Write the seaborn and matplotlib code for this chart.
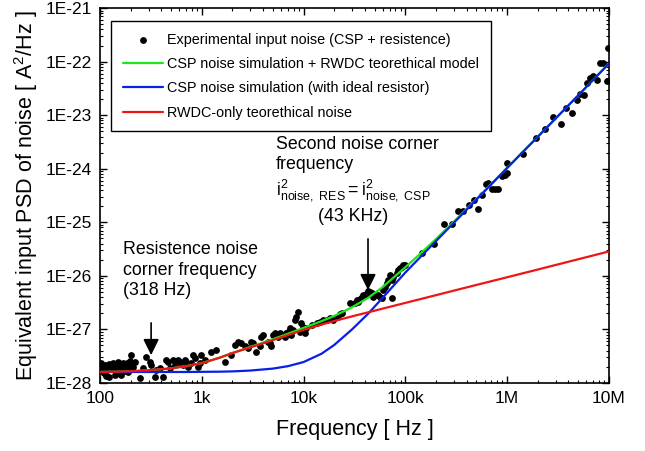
import numpy as np
import pandas as pd
import matplotlib
matplotlib.use('Agg')
import matplotlib.pyplot as plt
from matplotlib.ticker import FixedLocator, FuncFormatter, LogLocator, NullFormatter
import seaborn as sns

# experimental input noise (CSP + resistence)
exp_freq = [101, 103, 105, 107, 109, 111, 113, 115, 115, 118, 120, 122, 124, 127, 129,
            132, 134, 137, 139, 140, 142, 145, 148, 150, 153, 156, 159, 162, 165, 168,
            172, 175, 178, 181, 185, 188, 192, 196, 199, 203, 211, 219, 245, 264, 285,
            307, 319, 344, 357, 385, 416, 448, 465, 483, 521, 541, 584, 606, 654, 679,
            705, 732, 789, 820, 851, 918, 953, 989, 1067, 1242, 1390, 1680, 1950, 2100,
            2270, 2440, 2640, 2840, 3070, 3180, 3430, 3700, 3840, 3990, 4470, 4640, 4820,
            5000, 5200, 5610, 5820, 6280, 6520, 6770, 7030, 7300, 7580, 7870, 8170, 8490,
            8810, 9150, 9500, 9860, 10240, 10640, 12000, 13430, 14490, 15630, 16860, 18170,
            19600, 21130, 22790, 23660, 28560, 32000, 33200, 34500, 35800, 37200, 38600,
            40100, 41700, 43200, 44900, 46600, 48400, 50300, 54200, 56200, 58400, 60700,
            63000, 65400, 67900, 70600, 73300, 74000, 76100, 82000, 85300, 88500, 91900,
            95400, 99100, 145e3, 191e3, 239e3, 285e3, 331e3, 371e3, 425e3, 472e3, 521e3,
            570e3, 619e3, 653e3, 704e3, 759e3, 818e3, 883e3, 951e3, 988e3, 1.0e6, 1.44e6,
            1.92e6, 2.35e6, 2.84e6, 3.35e6, 3.78e6, 4.3e6, 4.81e6, 5.19e6, 5.68e6, 6.12e6,
            6.5e6, 7.02e6, 7.57e6, 8.16e6, 8.8e6, 9.49e6, 9.85e6]
exp_psd = [1.9e-28, 2.33e-28, 2.1e-28, 1.63e-28, 1.5e-28, 2.0e-28, 2.2e-28, 1.88e-28, 1.35e-28,
           1.75e-28, 2.17e-28, 2.3e-28, 1.31e-28, 1.8e-28, 2.0e-28, 2.1e-28, 2.33e-28, 2.3e-28,
           1.75e-28, 1.4e-28, 1.9e-28, 2.17e-28, 2.1e-28, 2.5e-28, 1.7e-28, 2.0e-28, 2.2e-28,
           1.41e-28, 2.0e-28, 2.33e-28, 2.2e-28, 1.88e-28, 1.7e-28, 2.17e-28, 2.4e-28, 1.63e-28,
           2.0e-28, 2.33e-28, 2.6e-28, 3.3e-28, 2.0e-28, 2.5e-28, 1.22e-28, 1.88e-28, 3.1e-28,
           2.5e-28, 2.17e-28, 1.31e-28, 1.75e-28, 1.88e-28, 1.31e-28, 2.7e-28, 2.5e-28, 1.88e-28,
           2.7e-28, 2.17e-28, 2.7e-28, 2.5e-28, 2.17e-28, 2.7e-28, 2.5e-28, 2.0e-28, 2.33e-28,
           3.3e-28, 2.9e-28, 2.0e-28, 2.33e-28, 3.3e-28, 2.7e-28, 3.8e-28, 4.1e-28, 2.5e-28,
           3.3e-28, 5.1e-28, 5.9e-28, 5.5e-28, 4.8e-28, 4.4e-28, 5.9e-28, 5.5e-28, 3.8e-28,
           4.8e-28, 7.3e-28, 7.9e-28, 5.9e-28, 5.5e-28, 4.8e-28, 7.9e-28, 8.5e-28, 7.3e-28,
           8.5e-28, 7.9e-28, 7.3e-28, 8.5e-28, 9.1e-28, 1.05e-27, 7.9e-28, 9.8e-28, 1.5e-27,
           1.73e-27, 2.1e-27, 9.1e-28, 1.3e-27, 1.13e-27, 8.5e-28, 1.05e-27, 1.21e-27, 1.3e-27,
           1.4e-27, 1.5e-27, 1.5e-27, 1.61e-27, 1.5e-27, 1.73e-27, 1.94e-27, 2.06e-27, 3.16e-27,
           3.07e-27, 3.5e-27, 3.3e-27, 3.65e-27, 4.1e-27, 4.4e-27, 4.4e-27, 4.7e-27, 5.1e-27,
           4.9e-27, 4.7e-27, 4.1e-27, 4.4e-27, 4.4e-27, 4.1e-27, 3.8e-27, 5.4e-27, 6.3e-27,
           7.3e-27, 8.4e-27, 1.04e-26, 8.4e-27, 3.9e-27, 9.7e-27, 1.11e-26, 1.29e-26, 1.38e-26,
           1.49e-26, 1.6e-26, 1.6e-26, 2.7e-26, 3.9e-26, 9.4e-26, 9.3e-26, 1.6e-25, 1.6e-25,
           2.07e-25, 2.57e-25, 1.77e-25, 3.19e-25, 5.3e-25, 5.4e-25, 4.2e-25, 4.2e-25, 4.2e-25,
           7.2e-25, 7.7e-25, 1.28e-24, 8.3e-25, 1.88e-24, 3.7e-24, 5.5e-24, 9.2e-24, 6.8e-24,
           1.36e-23, 1.1e-23, 1.95e-23, 2.48e-23, 2.34e-23, 3.98e-23, 4.9e-23, 5.5e-23, 4.6e-23,
           9.4e-23, 9.4e-23, 4.3e-23, 1.8e-22]

# model curves
model_freq = [100, 150, 200, 300, 500, 700, 1e3, 1.5e3, 2e3, 3e3, 5e3, 7e3, 1e4, 1.5e4, 2e4,
              3e4, 4.3e4, 6e4, 1e5, 1.5e5, 2e5, 3e5, 5e5, 1e6, 2e6, 5e6, 1e7]
csp_rwdc_psd = [1.6e-28, 1.62e-28, 1.65e-28, 1.72e-28, 1.87e-28, 2.05e-28, 2.34e-28, 2.97e-28,
                3.64e-28, 4.7e-28, 6.55e-28, 8.25e-28, 1.065e-27, 1.42e-27, 1.78e-27, 2.59e-27,
                3.87e-27, 6.18e-27, 1.446e-26, 2.91e-26, 4.87e-26, 1.03e-25, 2.72e-25, 1.04e-24,
                3.96e-24, 2.35e-23, 9.2e-23]
csp_ideal_psd = [1.6e-28, 1.6e-28, 1.6e-28, 1.6e-28, 1.6e-28, 1.6e-28, 1.61e-28, 1.62e-28,
                 1.64e-28, 1.7e-28, 1.85e-28, 2.05e-28, 2.45e-28, 3.5e-28, 5.1e-28, 1.0e-27,
                 1.95e-27, 3.9e-27, 1.15e-26, 2.55e-26, 4.45e-26, 9.8e-26, 2.65e-25, 1.03e-24,
                 3.95e-24, 2.35e-23, 9.2e-23]
rwdc_psd = [1.6e-28, 1.62e-28, 1.65e-28, 1.72e-28, 1.87e-28, 2.05e-28, 2.33e-28, 2.95e-28,
            3.6e-28, 4.6e-28, 6.3e-28, 7.8e-28, 9.8e-28, 1.23e-27, 1.43e-27, 1.75e-27,
            2.08e-27, 2.44e-27, 3.12e-27, 3.79e-27, 4.35e-27, 5.29e-27, 6.76e-27, 9.4e-27,
            1.31e-26, 2.04e-26, 2.85e-26]

x_ticks = [1e2, 1e3, 1e4, 1e5, 1e6, 1e7]
x_tick_labels = ['100', '1k', '10k', '100k', '1M', '10M']
y_ticks = [1e-28, 1e-27, 1e-26, 1e-25, 1e-24, 1e-23, 1e-22, 1e-21]

labels = ['Experimental input noise (CSP + resistence)',
          'CSP noise simulation + RWDC teorethical model',
          'CSP noise simulation (with ideal resistor)',
          'RWDC-only teorethical noise']

sns.set_style('ticks')
plt.rcParams['font.family'] = ['Liberation Sans', 'DejaVu Sans']
plt.rcParams['mathtext.fontset'] = 'custom'
plt.rcParams['mathtext.rm'] = 'Liberation Sans'
plt.rcParams['mathtext.it'] = 'Liberation Sans:italic'
plt.rcParams['mathtext.bf'] = 'Liberation Sans:bold'
for key in ['text.color', 'axes.labelcolor', 'xtick.color', 'ytick.color', 'axes.edgecolor']:
    plt.rcParams[key] = 'black'

exp_df = pd.DataFrame({'freq': exp_freq, 'psd': exp_psd})
model_df = pd.DataFrame({'freq': model_freq, 'green': csp_rwdc_psd,
                         'blue': csp_ideal_psd, 'red': rwdc_psd})

fig, ax = plt.subplots(figsize=(6.45, 4.51), dpi=100)
fig.subplots_adjust(left=0.155, right=0.944, bottom=0.151, top=0.982)

sns.scatterplot(data=exp_df, x='freq', y='psd', ax=ax, color='black', s=24,
                linewidth=0, label=labels[0], zorder=1)
sns.lineplot(data=model_df, x='freq', y='green', ax=ax, color='#1ee61e', lw=1.6,
             label=labels[1], zorder=2, sort=False, estimator=None)
sns.lineplot(data=model_df, x='freq', y='blue', ax=ax, color='#0a1ee6', lw=1.6,
             label=labels[2], zorder=3, sort=False, estimator=None)
sns.lineplot(data=model_df, x='freq', y='red', ax=ax, color='#f01414', lw=1.6,
             label=labels[3], zorder=4, sort=False, estimator=None)

ax.set_xscale('log')
ax.set_yscale('log')
ax.set_xlim(1e2, 1e7)
ax.set_ylim(1e-28, 1e-21)

ax.xaxis.set_major_locator(FixedLocator(x_ticks))
ax.xaxis.set_major_formatter(FuncFormatter(lambda v, p: x_tick_labels[int(round(np.log10(v))) - 2]))
ax.yaxis.set_major_locator(FixedLocator(y_ticks))
ax.yaxis.set_major_formatter(FuncFormatter(lambda v, p: '1E%d' % int(round(np.log10(v)))))
for axis in (ax.xaxis, ax.yaxis):
    axis.set_minor_locator(LogLocator(base=10, subs=np.arange(2, 10), numticks=100))
    axis.set_minor_formatter(NullFormatter())

ax.tick_params(which='both', direction='in', top=True, right=True, colors='black')
ax.tick_params(which='major', length=5, width=1, labelsize=12.5, pad=6)
ax.tick_params(which='minor', length=2.5, width=0.8)
for sp in ax.spines.values():
    sp.set_linewidth(1.2)
    sp.set_color('black')

ax.set_xlabel('Frequency [ Hz ]', fontsize=15.5, labelpad=9)
ax.set_ylabel(r'Equivalent input PSD of noise [ A$^{\mathregular{2}}$/Hz ]', fontsize=15.5, labelpad=4)

handles, labs = ax.get_legend_handles_labels()
order = [labs.index(l) for l in labels]
leg = ax.legend([handles[i] for i in order], [labs[i] for i in order],
                loc='upper left', bbox_to_anchor=(0.0216, 0.965), borderaxespad=0,
                fontsize=10.4, frameon=True, fancybox=False, edgecolor='black',
                framealpha=1, handlelength=2.8, handletextpad=0.3, labelspacing=0.71,
                borderpad=0.8, scatterpoints=1)
leg.get_frame().set_linewidth(1.0)
for t in leg.get_texts():
    t.set_color('black')

# annotations
ax.text(0.045, 0.301, 'Resistence noise\ncorner frequency\n(318 Hz)', transform=ax.transAxes,
        fontsize=12.8, ha='left', va='center', linespacing=1.25)
ax.text(0.3458, 0.609, 'Second noise corner\nfrequency', transform=ax.transAxes,
        fontsize=12.8, ha='left', va='center', linespacing=1.25)
ax.text(0.3458, 0.515, r'$\mathregular{i^2_{noise,\ RES} = i^2_{noise,\ CSP}}$',
        transform=ax.transAxes, fontsize=12.8, ha='left', va='center')
ax.text(0.497, 0.445, '(43 KHz)', transform=ax.transAxes, fontsize=12.8,
        ha='center', va='center')

arrow_style = dict(arrowstyle='-|>,head_length=0.65,head_width=0.32', color='black',
                   lw=1.2, mutation_scale=15, shrinkA=0, shrinkB=0)
ax.annotate('', xy=(318, 3.3e-28), xytext=(318, 1.32e-27), arrowprops=arrow_style)
ax.annotate('', xy=(43e3, 5.4e-27), xytext=(43e3, 4.9e-26), arrowprops=arrow_style)

fig.savefig('out.png', dpi=100)
